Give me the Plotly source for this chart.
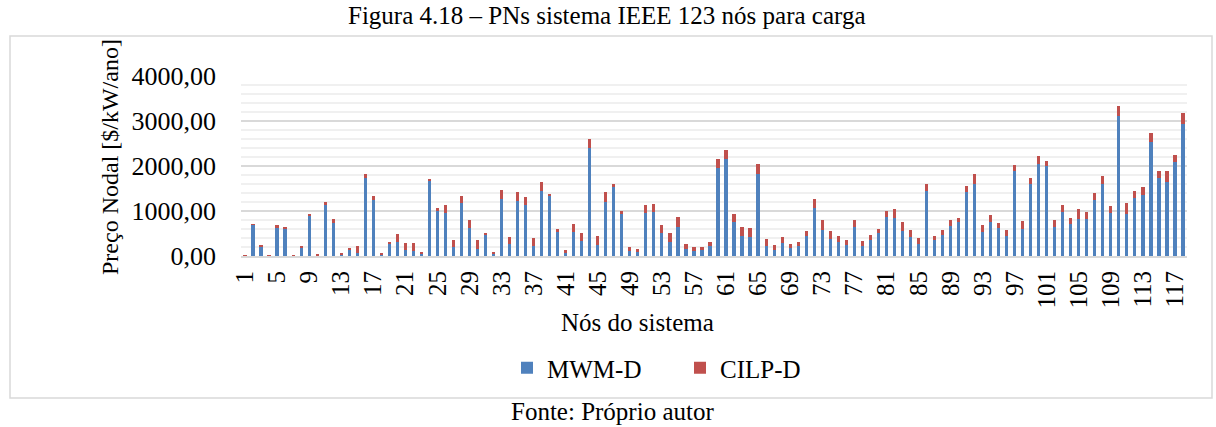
import plotly.graph_objects as go

# Nodal prices per node of the IEEE 123-bus feeder ($/kW/ano)
nodes = list(range(1, 119))

mwm_d = [
    5, 690, 207, 8, 640, 592, 5, 192, 903, 5,
    1125, 740, 37, 126, 66, 1732, 1251, 37, 278, 322,
    130, 115, 48, 1658, 1003, 958, 193, 1169, 633, 163,
    470, 52, 1276, 263, 1221, 1125, 215, 1443, 1325, 544,
    74, 533, 340, 2409, 248, 1195, 1539, 943, 118, 96,
    966, 985, 503, 307, 655, 152, 118, 130, 233, 1961,
    2161, 762, 451, 414, 1828, 230, 133, 300, 185, 230,
    451, 1077, 585, 377, 303, 244, 643, 230, 359, 518,
    870, 836, 562, 422, 277, 1443, 355, 459, 673, 762,
    1417, 1603, 534, 757, 623, 453, 1900, 594, 1596, 2048,
    2004, 638, 980, 712, 831, 816, 1239, 1596, 957, 3117,
    942, 1291, 1366, 2538, 1744, 1648, 2078, 2939,
]

cilp_d = [
    7, 20, 37, 7, 40, 52, 7, 33, 29, 40,
    67, 82, 30, 59, 156, 88, 81, 37, 37, 163,
    158, 173, 26, 55, 67, 178, 159, 171, 173, 189,
    41, 44, 185, 169, 192, 185, 189, 196, 45, 48,
    59, 177, 171, 188, 200, 218, 52, 56, 82, 63,
    170, 177, 177, 215, 207, 114, 82, 70, 74, 190,
    192, 178, 204, 207, 214, 140, 104, 114, 81, 73,
    104, 188, 207, 174, 133, 111, 152, 95, 107, 82,
    129, 219, 190, 148, 115, 155, 93, 111, 130, 78,
    134, 230, 149, 163, 119, 133, 119, 178, 133, 167,
    104, 163, 155, 127, 208, 164, 171, 178, 149, 215,
    231, 164, 170, 200, 141, 252, 171, 245,
]

y_ticks = [0, 1000, 2000, 3000, 4000]
y_tick_text = ["0,00", "1000,00", "2000,00", "3000,00", "4000,00"]
x_ticks = nodes[::4]

BLUE = "#4F81BD"
RED = "#C0504D"
SERIF = "Liberation Serif"

# plot-area geometry in pixels, used to place page elements outside the axes
W_PX, H_PX = 1216, 427
L, R = 241, 1187
T, B = 76, 256


def px_x(px):
    return (px - L) / (R - L)


def px_y(py):
    return (B - py) / (B - T)


def serif(size):
    return dict(family=SERIF, size=size, color="black")


fig = go.Figure()
fig.add_trace(go.Bar(x=nodes, y=mwm_d, name="MWM-D", marker_color=BLUE,
                     marker_line_width=0))
fig.add_trace(go.Bar(x=nodes, y=cilp_d, name="CILP-D", marker_color=RED,
                     marker_line_width=0))

fig.update_layout(
    width=W_PX, height=H_PX,
    margin=dict(l=L, r=W_PX - R, t=T, b=H_PX - B, pad=0),
    barmode="stack", bargap=0.6,
    paper_bgcolor="white", plot_bgcolor="white",
    font=serif(24),
    showlegend=True,
    legend=dict(orientation="h", x=px_x(507), y=px_y(345), xanchor="left",
                yanchor="top", font=serif(25), entrywidth=128,
                itemwidth=30, traceorder="normal",
                bgcolor="rgba(0,0,0,0)"),
)

fig.update_xaxes(
    range=[0.5, 118.5], tickmode="array", tickvals=x_ticks,
    ticktext=[str(v) for v in x_ticks], tickangle=-90,
    tickfont=serif(25), ticks="", showgrid=False,
    showline=True, linecolor="#d9d9d9", linewidth=2,
    ticklabelstandoff=3, zeroline=False,
)
fig.update_yaxes(
    range=[0, 4000], tickmode="array", tickvals=y_ticks, ticktext=y_tick_text,
    tickfont=serif(26), ticks="", showline=False, zeroline=False,
    showgrid=True, gridcolor="#d9d9d9", gridwidth=2,
    minor=dict(dtick=200, showgrid=True, gridcolor="#f0f0f0", gridwidth=2),
    ticklabelstandoff=24,
)

annotations = [
    dict(text="Figura 4.18 – PNs sistema IEEE 123 nós para carga",
         x=px_x(607), y=px_y(0), yanchor="top", font=serif(25)),
    dict(text="Preço Nodal [$/kW/ano]", x=px_x(110), y=px_y(157),
         textangle=-90, font=serif(24)),
    dict(text="Nós do sistema", x=px_x(637), y=px_y(322), font=serif(25)),
    dict(text="Fonte: Próprio autor", x=px_x(612), y=px_y(427),
         yanchor="bottom", font=serif(25)),
]
for a in annotations:
    a.setdefault("yanchor", "middle")
    a.update(xref="paper", yref="paper", xanchor="center", showarrow=False)
fig.update_layout(annotations=annotations)

# chart-area frame
fig.add_shape(type="rect", xref="paper", yref="paper",
              x0=px_x(10), x1=px_x(1212), y0=px_y(36), y1=px_y(398),
              line=dict(color="#d9d9d9", width=1.5), layer="below")

fig.write_html("out.html")
